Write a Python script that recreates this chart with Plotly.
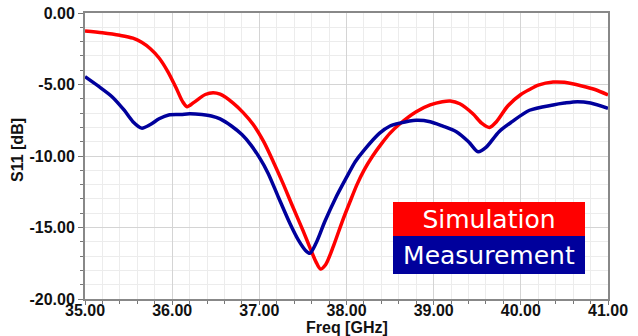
import plotly.graph_objects as go

sim_freq = [35.0, 35.2, 35.4, 35.55, 35.65, 35.75, 35.85, 35.95, 36.05, 36.12, 36.17, 36.25, 36.38, 36.47,
            36.55, 36.7, 36.82, 36.93, 37.05, 37.16, 37.27, 37.38, 37.5, 37.6, 37.65, 37.7, 37.76, 37.85,
            37.95, 38.04, 38.12, 38.2, 38.3, 38.4, 38.5, 38.61, 38.8, 38.96, 39.1, 39.19, 39.3, 39.45,
            39.55, 39.64, 39.72, 39.85, 40.0, 40.1, 40.2, 40.37, 40.5, 40.7, 40.85, 41.0]
sim_s11 = [-1.25, -1.38, -1.56, -1.76, -2.05, -2.5, -3.15, -4.1, -5.3, -6.2, -6.55, -6.25, -5.7, -5.57,
           -5.68, -6.3, -7.0, -7.8, -9.0, -10.4, -11.9, -13.5, -15.2, -16.7, -17.4, -17.9, -17.6, -16.3,
           -14.6, -13.2, -12.0, -11.0, -10.0, -9.15, -8.4, -7.76, -6.9, -6.43, -6.2, -6.15, -6.35, -7.05,
           -7.7, -8.0, -7.6, -6.5, -5.7, -5.35, -5.05, -4.83, -4.85, -5.1, -5.35, -5.73]

meas_freq = [35.0, 35.15, 35.31, 35.45, 35.55, 35.65, 35.75, 35.85, 35.96, 36.1, 36.2, 36.34, 36.45,
             36.55, 36.68, 36.8, 36.9, 37.0, 37.1, 37.22, 37.35, 37.45, 37.53, 37.58, 37.65, 37.75, 37.87,
             38.0, 38.1, 38.2, 38.38, 38.5, 38.61, 38.8, 38.96, 39.1, 39.26, 39.4, 39.51, 39.6, 39.75,
             39.9, 40.1, 40.37, 40.5, 40.65, 40.8, 41.0]
meas_s11 = [-4.45, -5.1, -5.85, -6.8, -7.6, -8.05, -7.8, -7.4, -7.13, -7.1, -7.05, -7.1, -7.2,
            -7.4, -7.9, -8.5, -9.2, -10.1, -11.2, -12.9, -14.7, -15.9, -16.6, -16.8, -16.1, -14.6, -13.0,
            -11.5, -10.4, -9.6, -8.4, -7.9, -7.7, -7.5, -7.6, -7.9, -8.3, -9.0, -9.7, -9.4, -8.3,
            -7.6, -6.8, -6.43, -6.3, -6.2, -6.3, -6.66]

x_ticks = [35, 36, 37, 38, 39, 40, 41]
y_ticks = [0, -5, -10, -15, -20]
series_names = ["Simulation", "Measurement"]

RED = "#ff0000"
BLUE = "#00009c"

fig = go.Figure()
fig.add_trace(go.Scatter(x=sim_freq, y=sim_s11, mode="lines", name=series_names[0],
                         line=dict(color=RED, width=3.5, shape="spline", smoothing=0.8)))
fig.add_trace(go.Scatter(x=meas_freq, y=meas_s11, mode="lines", name=series_names[1],
                         line=dict(color=BLUE, width=3.5, shape="spline", smoothing=0.8)))

tickfont = dict(family="Liberation Sans", size=16, color="#111111", weight="bold")

fig.update_xaxes(range=[35, 41], tickvals=x_ticks, ticktext=[f"{v:.2f}" for v in x_ticks],
                 showgrid=True, gridcolor="#d4d4d4", gridwidth=1,
                 minor=dict(dtick=0.2, showgrid=True, gridcolor="#ececec", ticks="outside",
                            ticklen=3, tickcolor="#777777"),
                 ticks="outside", ticklen=4, tickcolor="#777777", tickwidth=1,
                 ticklabelstandoff=-8,
                 showline=True, linecolor="#888888", linewidth=2, mirror=True,
                 zeroline=False, tickfont=tickfont)
fig.update_yaxes(range=[-20, 0], tickvals=y_ticks, ticktext=[f"{v:.2f}" for v in y_ticks],
                 showgrid=True, gridcolor="#d4d4d4", gridwidth=1,
                 minor=dict(dtick=1, showgrid=True, gridcolor="#ececec", ticks="outside",
                            ticklen=3, tickcolor="#777777"),
                 ticks="outside", ticklen=5, tickcolor="#777777", tickwidth=1,
                 showline=True, linecolor="#888888", linewidth=2, mirror=True,
                 zeroline=False, tickfont=tickfont)

titlefont = dict(family="Liberation Sans", size=16, color="#111111", weight="bold")
annotations = [
    dict(text="Freq [GHz]", xref="paper", yref="paper", x=0.5, y=0, yshift=-28,
         xanchor="center", yanchor="middle", showarrow=False, font=titlefont),
    dict(text="S11 [dB]", xref="paper", yref="paper", x=0, xshift=-68, y=0.5, yshift=6,
         xanchor="center", yanchor="middle", textangle=-90, showarrow=False, font=titlefont),
    dict(text=series_names[0], xref="paper", yref="paper", x=0.7725, y=0.2797,
         xanchor="center", yanchor="middle", showarrow=False, bgcolor=RED,
         width=192, height=35, borderpad=0, borderwidth=0,
         font=dict(family="DejaVu Sans", size=25, color="white")),
    dict(text=series_names[1], xref="paper", yref="paper", x=0.7725, y=0.1538,
         xanchor="center", yanchor="middle", showarrow=False, bgcolor=BLUE,
         width=192, height=38, borderpad=0, borderwidth=0,
         font=dict(family="DejaVu Sans", size=25, color="white")),
]

fig.update_layout(width=638, height=336, margin=dict(l=85, r=30, t=13, b=37, autoexpand=False),
                  paper_bgcolor="white", plot_bgcolor="white", showlegend=False,
                  annotations=annotations)

fig.write_html("out.html")
